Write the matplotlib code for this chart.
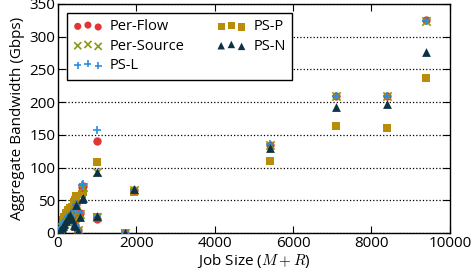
import matplotlib
matplotlib.use("Agg")
import matplotlib.pyplot as plt

plt.rcParams['font.family'] = ['Open Sans', 'DejaVu Sans']
plt.rcParams['mathtext.fontset'] = 'cm'

# Job sizes (M+R)
job = [30, 60, 90, 120, 150, 200, 250, 300, 350, 400, 430, 460, 500, 560, 600, 640,
       1000, 1000, 1700, 1950, 5400, 7100, 8400, 9400]

per_flow = [3, 6, 9, 12, 15, 20, 25, 28, 24, 35, 12, 44, 5, 31, 70, 72,
            140, 22, 0, 66, 135, 210, 210, 325]
per_source = [3, 6, 9, 12, 15, 20, 25, 28, 24, 35, 12, 44, 5, 29, 68, 70,
              93, 24, 0, 65, 134, 209, 209, 324]
ps_l = [3, 6, 9, 12, 15, 20, 25, 28, 24, 35, 12, 45, 5, 30, 73, 75,
        157, 24, 0, 66, 136, 210, 210, 324]
ps_p = [5, 12, 16, 20, 25, 30, 35, 38, 40, 48, 50, 57, 3, 25, 60, 63,
        109, 25, 0, 63, 110, 163, 161, 236]
ps_n = [2, 5, 8, 10, 13, 18, 24, 27, 22, 12, 10, 43, 3, 25, 52, 54,
        93, 26, 0, 67, 130, 193, 197, 277]

fig = plt.figure(figsize=(4.72, 2.77), dpi=100)
ax = fig.add_axes([0.123, 0.159, 0.830, 0.827])

ms = 36
ax.scatter(job, per_flow, s=ms, marker='o', color='#e03636', label='Per-Flow', zorder=3, linewidths=0)
ax.scatter(job, per_source, s=ms, marker='x', color='#8c9a12', label='Per-Source', zorder=4, linewidths=1.2)
ax.scatter(job, ps_l, s=ms, marker='+', color='#2b8fe0', label='PS-L', zorder=5, linewidths=1.2)
ax.scatter(job, ps_p, s=ms, marker='s', color='#b98d0a', label='PS-P', zorder=2, linewidths=0)
ax.scatter(job, ps_n, s=ms + 4, marker='^', color='#0c3344', label='PS-N', zorder=6, linewidths=0)

ax.set_xlim(0, 10000)
ax.set_ylim(0, 350)
ax.set_xticks([0, 2000, 4000, 6000, 8000, 10000])
ax.set_yticks([0, 50, 100, 150, 200, 250, 300, 350])
ax.tick_params(direction='in', top=True, right=True, labelsize=11, length=5, pad=2)
ax.yaxis.grid(True, linestyle=':', color='black', linewidth=0.9)
ax.set_axisbelow(True)
for sp in ax.spines.values():
    sp.set_linewidth(1.0)

ax.set_xlabel('Job Size ($M+R$)', fontsize=11, labelpad=1)
ax.set_ylabel('Aggregate Bandwidth (Gbps)', fontsize=11, labelpad=3)

leg = ax.legend(loc='upper left', ncol=2, scatterpoints=3, fontsize=10.5,
                fancybox=False, edgecolor='black', framealpha=1,
                borderaxespad=0.6, handletextpad=0.5, columnspacing=2.2,
                labelspacing=0.3, borderpad=0.45, markerscale=0.85)
leg.get_frame().set_linewidth(1.0)

fig.savefig('out.png', dpi=100)
